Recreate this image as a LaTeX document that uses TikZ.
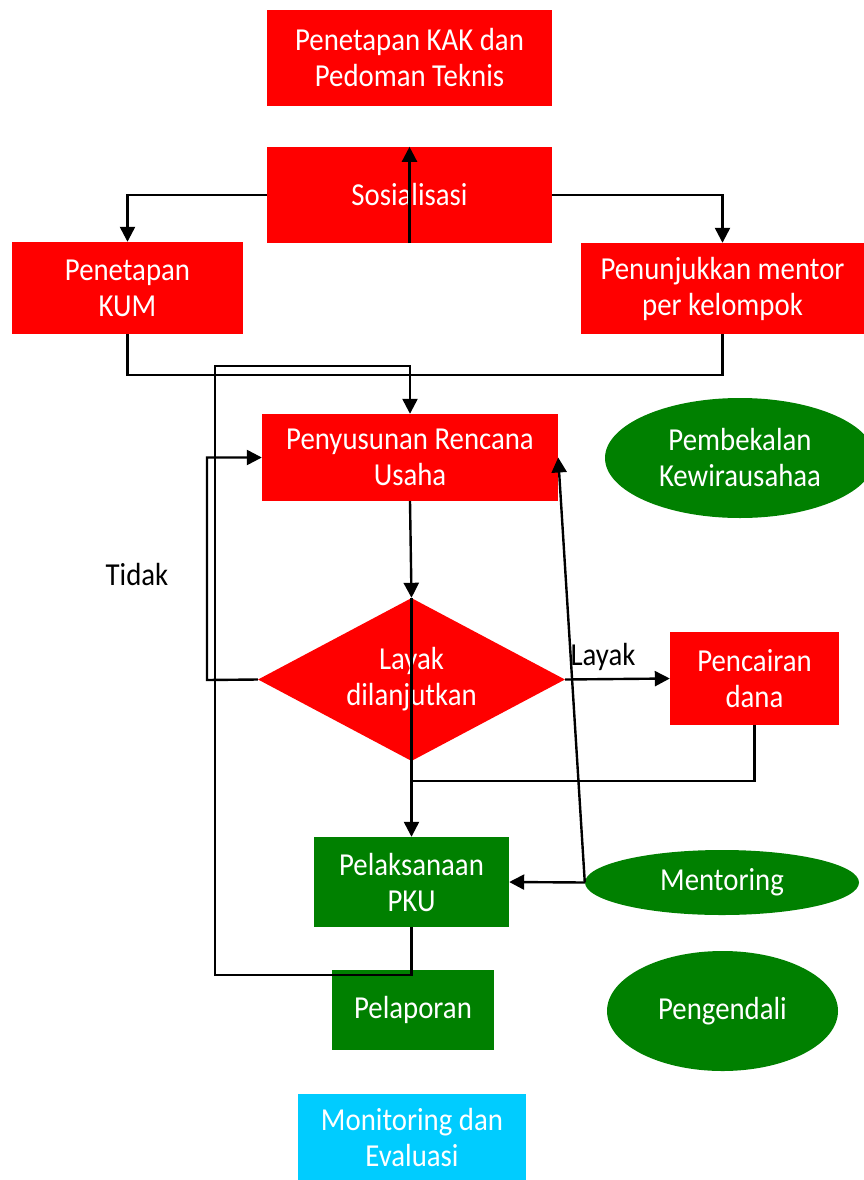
\documentclass[tikz,border=0pt]{standalone}
\usepackage{fontspec}
\setmainfont{Carlito}[FakeStretch=0.9]
\usetikzlibrary{shapes.geometric,arrows.meta,calc}
\definecolor{myred}{RGB}{255,0,0}
\definecolor{mygreen}{RGB}{0,128,0}
\definecolor{mycyan}{RGB}{0,204,255}
\begin{document}
\begin{tikzpicture}[x=1pt,y=-1pt,
  txt/.style={font=\fontsize{32}{36}\selectfont},
  box/.style={rectangle, inner sep=0pt, text=white, align=center, txt},
  redbox/.style={box, fill=myred},
  greenbox/.style={box, fill=mygreen},
  oval/.style={ellipse, inner sep=0pt, fill=mygreen, text=white, align=center, txt},
  conn/.style={line width=2.4pt, black},
  arr/.style={conn, -{Triangle[length=15pt,width=15pt]}},
  lbl/.style={text=black, txt}]
\useasboundingbox (0,0) rectangle (864,1180);

% nodes
\node[redbox, minimum width=285pt, minimum height=96pt] (kak) at (409.5,58) {Penetapan KAK dan\\Pedoman Teknis};
\node[redbox, minimum width=285pt, minimum height=96pt] (sos) at (409.5,195) {Sosialisasi};
\node[redbox, minimum width=231pt, minimum height=92pt] (kum) at (127.5,288) {Penetapan\\KUM};
\node[redbox, minimum width=283pt, minimum height=91pt] (men) at (722.5,288.5) {Penunjukkan mentor\\per kelompok};
\node[redbox, minimum width=296pt, minimum height=87pt] (pru) at (410,457.5) {Penyusunan Rencana\\Usaha};
\node[diamond, aspect=1.88, inner sep=0pt, fill=myred, text=white, align=center, txt,
      minimum width=307pt, minimum height=163pt] (dia) at (411.5,679.5) {Layak\\dilanjutkan};
\node[redbox, minimum width=169pt, minimum height=93pt] (pc) at (754.5,678.5) {Pencairan\\dana};
\node[greenbox, minimum width=195pt, minimum height=90pt] (pku) at (411.5,882) {Pelaksanaan\\PKU};
\node[greenbox, minimum width=162pt, minimum height=80pt] (lap) at (413,1010) {Pelaporan};
\node[box, fill=mycyan, minimum width=228pt, minimum height=86pt] (mon) at (412,1137) {Monitoring dan\\Evaluasi};
\node[oval, minimum width=270pt, minimum height=120pt] (pem) at (740,458) {Pembekalan\\Kewirausahaa};
\node[oval, minimum width=274pt, minimum height=65pt] (mtr) at (722,882.5) {Mentoring};
\node[oval, minimum width=231pt, minimum height=120pt] (peng) at (722.5,1011) {Pengendali};

% labels
\node[lbl] (tidak) at (137,575) {Tidak};
\node[lbl] (layak) at (603,657) {Layak};

% helper coordinates
\coordinate (j1) at (127.5,375);
\coordinate (l1) at (215,975);
\coordinate (l2) at (215,366);
\coordinate (t1) at (207,680);
\coordinate (c1) at (411.5,781);

% connectors
\draw[arr] (sos.south) -- (sos.north);
\draw[arr] (sos.west) -| (kum.north);
\draw[arr] (sos.east) -| (men.north);
\draw[conn] (kum.south) -- (kum.south |- j1) -- (men.south |- j1) -- (men.south);
\draw[arr] (pku.south) |- (l1) -- (l2) -| (pru.north);
\draw[arr] (dia.west) -- (t1) |- (pru.west);
\draw[arr] (pru.south) -- (dia.north);
\draw[arr] (dia.north) -- (pku.north);
\draw[arr] (dia.east) -- (pc.west);
\draw[conn] (pc.south) |- (c1);
\draw[arr] (mtr.west) -- (pku.east);
\draw[arr] (mtr.west) -- (pru.east);
\end{tikzpicture}
\end{document}
